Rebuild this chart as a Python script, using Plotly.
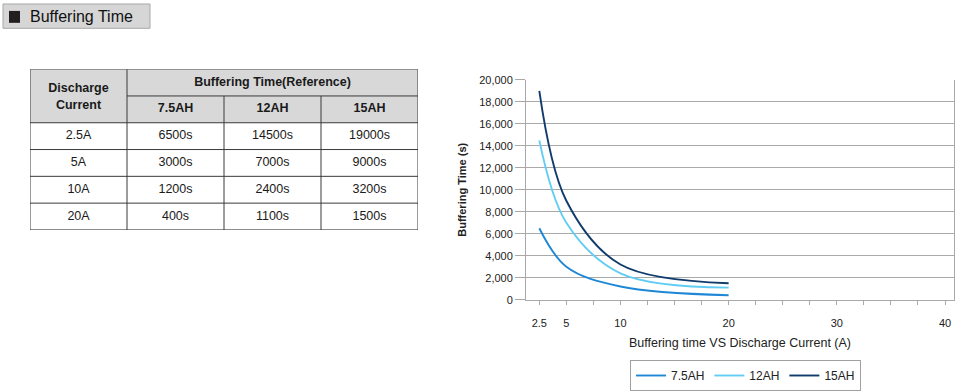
import plotly.graph_objects as go

# ---------------- data ----------------
currents = [2.5, 5, 10, 20]
current_labels = ["2.5A", "5A", "10A", "20A"]
series_names = ["7.5AH", "12AH", "15AH"]
time_75ah = [6500, 3000, 1200, 400]
time_12ah = [14500, 7000, 2400, 1100]
time_15ah = [19000, 9000, 3200, 1500]
x_tick_vals = [2.5, 5, 10, 20, 30, 40]
x_tick_text = ["2.5", "5", "10", "20", "30", "40"]
table_header_left = "Discharge<br>Current"
table_header_group = "Buffering Time(Reference)"
section_title = "Buffering Time"
y_title = "Buffering Time (s)"
x_title = "Buffering time VS Discharge Current (A)"

W, H = 962, 391
FONT = "Liberation Sans, Arial, Helvetica, sans-serif"


def px(x):
    return x / W


def py(y):
    return 1 - y / H


series_values = [time_75ah, time_12ah, time_15ah]
series_colors = ["#1f88d6", "#62cdf4", "#0f3c6c"]

fig = go.Figure()

for name, vals, col in zip(series_names, series_values, series_colors):
    fig.add_trace(go.Scatter(
        x=currents, y=vals, name=name, mode="lines",
        line=dict(color=col, width=1.9, shape="spline", smoothing=1.0),
        xaxis="x", yaxis="y",
    ))

# ---------------- table (drawn on hidden axes x2/y2) ----------------
txt_x, txt_y, txt_s = [], [], []
for r, lab in enumerate(current_labels):
    row_y = 2.5 + r
    txt_x.append(0.5); txt_y.append(row_y); txt_s.append(lab)
    for c, vals in enumerate(series_values):
        txt_x.append(1.5 + c); txt_y.append(row_y); txt_s.append(f"{vals[r]}s")

fig.add_trace(go.Scatter(
    x=txt_x, y=txt_y, text=txt_s, mode="text", textposition="middle center",
    textfont=dict(family=FONT, size=12.5, color="#1a1a1a"),
    xaxis="x2", yaxis="y2", showlegend=False, hoverinfo="skip",
))

hx = [0.5, 2.5] + [1.5 + c for c in range(len(series_names))]
hy = [1.05, 0.5] + [1.5] * len(series_names)
hs = [f"<b>{table_header_left}</b>", f"<b>{table_header_group}</b>"] + [f"<b>{n}</b>" for n in series_names]
fig.add_trace(go.Scatter(
    x=hx, y=hy, text=hs, mode="text", textposition="middle center",
    textfont=dict(family=FONT, size=12.5, color="#1a1a1a"),
    xaxis="x2", yaxis="y2", showlegend=False, hoverinfo="skip",
))

ncols = 1 + len(series_names)
nrows = 2 + len(current_labels)
shapes = []
shapes.append(dict(type="rect", xref="x2", yref="y2", x0=0, x1=ncols, y0=0, y1=2,
                   fillcolor="#d8d8d8", line=dict(width=0), layer="below"))
line_style = dict(color="#3a3a3a", width=1)
shapes.append(dict(type="rect", xref="x2", yref="y2", x0=0, x1=ncols, y0=0, y1=nrows,
                   line=line_style))
for yy in range(2, nrows):
    shapes.append(dict(type="line", xref="x2", yref="y2", x0=0, x1=ncols, y0=yy, y1=yy, line=line_style))
shapes.append(dict(type="line", xref="x2", yref="y2", x0=1, x1=ncols, y0=1, y1=1, line=line_style))
shapes.append(dict(type="line", xref="x2", yref="y2", x0=1, x1=1, y0=0, y1=nrows, line=line_style))
for xx in range(2, ncols):
    shapes.append(dict(type="line", xref="x2", yref="y2", x0=xx, x1=xx, y0=1, y1=nrows, line=line_style))

# ---------------- section title box ----------------
shapes.append(dict(type="rect", xref="paper", yref="paper", x0=px(3), x1=px(150), y0=py(28.5), y1=py(4),
                   fillcolor="#d6d6d6", line=dict(color="#a8a8a8", width=1)))
shapes.append(dict(type="rect", xref="paper", yref="paper", x0=px(9), x1=px(20), y0=py(23), y1=py(11),
                   fillcolor="#231f20", line=dict(width=0)))

annotations = [dict(
    text=section_title, xref="paper", yref="paper", x=px(28), y=py(16.5),
    xanchor="left", yanchor="middle", showarrow=False,
    font=dict(family=FONT, size=16, color="#111111"),
)]

grid_col = "#a9a9a9"
fig.update_layout(
    width=W, height=H,
    margin=dict(l=0, r=0, t=0, b=0),
    paper_bgcolor="white", plot_bgcolor="white",
    font=dict(family=FONT, color="#222222"),
    shapes=shapes, annotations=annotations,
    xaxis=dict(
        domain=[px(526), px(954)], range=[1.27, 40.83],
        tickvals=x_tick_vals, ticktext=x_tick_text,
        ticks="outside", ticklen=4, tickcolor=grid_col,
        minor=dict(tickmode="linear", tick0=0, dtick=2.5, ticks="outside", ticklen=4, tickcolor=grid_col),
        showgrid=False, zeroline=False,
        showline=True, linecolor=grid_col, linewidth=1,
        tickfont=dict(size=11, color="#222222"),
        ticklabelstandoff=9,
        title=dict(text=x_title, font=dict(size=12.5, color="#222222"), standoff=10),
        automargin=False, fixedrange=True,
    ),
    yaxis=dict(
        domain=[py(302), py(80.5)], range=[0, 20000],
        tickmode="linear", tick0=0, dtick=2000, tickformat=",",
        ticks="outside", ticklen=10, tickcolor=grid_col,
        showgrid=True, gridcolor=grid_col, gridwidth=1,
        zeroline=False,
        showline=True, linecolor=grid_col, linewidth=1, mirror=True,
        tickfont=dict(size=11, color="#222222"),
        title=dict(text=f"<b>{y_title}</b>", font=dict(size=11, color="#222222"), standoff=10),
        automargin=False, fixedrange=True,
    ),
    xaxis2=dict(domain=[px(30), px(418)], range=[0, ncols], visible=False, fixedrange=True),
    yaxis2=dict(domain=[py(231.7), py(69.7)], range=[nrows, 0], visible=False, fixedrange=True),
    legend=dict(
        orientation="h", x=px(630), y=py(363), xanchor="left", yanchor="top",
        bgcolor="white", bordercolor="#a0a0a0", borderwidth=1,
        font=dict(size=12, color="#222222"), itemwidth=30,
        traceorder="normal",
    ),
    showlegend=True,
)

fig.write_html(
    "out.html",
    config={"displayModeBar": False},
    post_script="document.body.style.margin='0';document.body.style.overflow='hidden';",
)
